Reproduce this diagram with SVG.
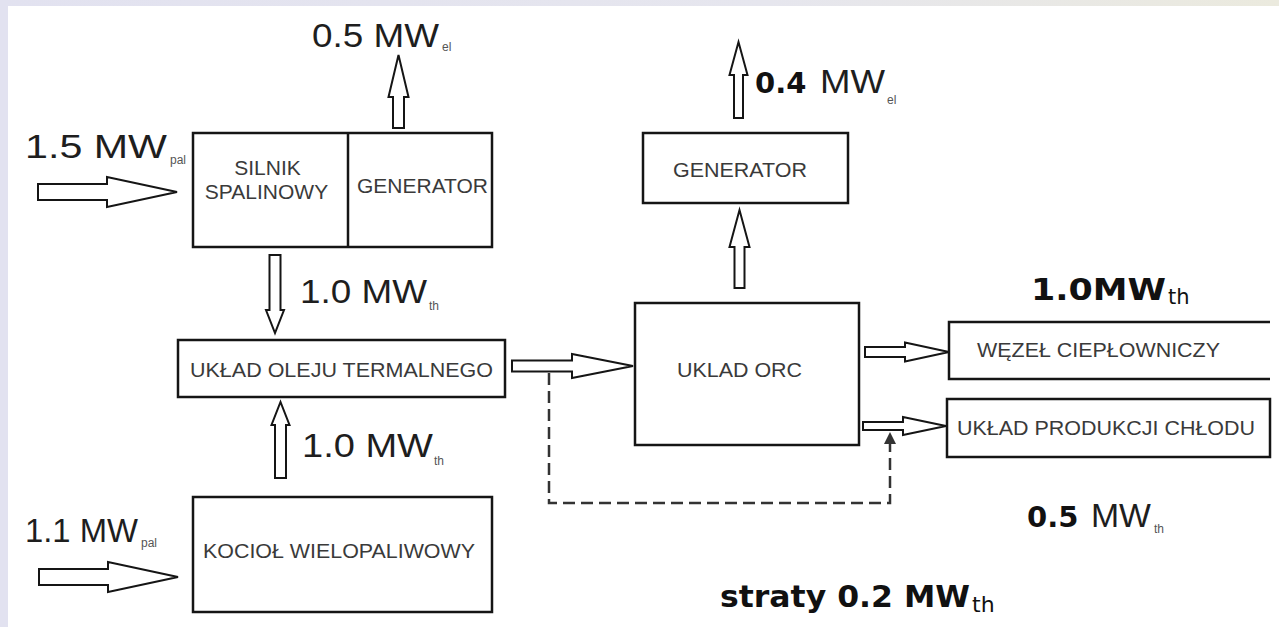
<svg xmlns="http://www.w3.org/2000/svg" width="1279" height="627" viewBox="0 0 1279 627">
<defs>
<linearGradient id="bandTop" x1="0" y1="0" x2="1" y2="0">
<stop offset="0" stop-color="#e2e2f0"/><stop offset="0.6" stop-color="#e6e6ee"/><stop offset="1" stop-color="#ebeade"/>
</linearGradient>
<style>
.box{fill:#fff;stroke:#151515;stroke-width:2.5}
.open{fill:none;stroke:#151515;stroke-width:2.5}
.blk{fill:#fff;stroke:#151515;stroke-width:2;stroke-linejoin:miter}
.lbl{font-family:"Liberation Sans",Arial,sans-serif;font-size:21px;fill:#3a3a3a}
.big{font-family:"Liberation Sans",Arial,sans-serif;font-size:34px;fill:#1e1e1e}
.sub{font-family:"Liberation Sans",Arial,sans-serif;font-size:12px;fill:#555}
.bold{font-family:"DejaVu Sans",Verdana,sans-serif;font-weight:bold;fill:#111}
.dash{fill:none;stroke:#333;stroke-width:2.5;stroke-dasharray:12 6}
</style>
</defs>
<rect width="1279" height="627" fill="#fff"/>
<rect x="0" y="0" width="1279" height="6" fill="url(#bandTop)"/>
<rect x="0" y="0" width="8" height="627" fill="#e2e2f0"/>

<g id="connectors">
<polygon class="blk" points="38,184 107,184 107,177 177,192 107,207 107,200 38,200"/>
<polygon class="blk" points="39,569 108,569 108,562 178,577 108,592 108,585 39,585"/>
<polygon class="blk" points="393,128 393,97 388.5,97 398.5,55 408.5,97 404,97 404,128"/>
<polygon class="blk" points="269.5,255 269.5,310 266,310 275,333 284,310 280.5,310 280.5,255"/>
<polygon class="blk" points="275,478 275,425 271.5,425 280.5,402 289.5,425 286,425 286,478"/>
<polygon class="blk" points="512,360.5 572,360.5 572,354 633,366 572,378 572,371.5 512,371.5"/>
<polygon class="blk" points="734.5,288 734.5,247 729.5,247 739.5,210 749.5,247 744.5,247 744.5,288"/>
<polygon class="blk" points="734,118 734,75 729.5,75 738.5,42 747.5,75 743,75 743,118"/>
<polygon class="blk" points="865,347 905,347 905,342.5 949,352 905,361.5 905,357 865,357"/>
<polygon class="blk" points="863,422 903,422 903,417 946,426 903,435 903,430 863,430"/>
<path class="dash" d="M549,373 V503 H890 V444"/>
<path d="M890,432 L896,444 L884,444 Z" fill="#333"/>
</g>

<g id="engine">
<rect class="box" x="193" y="133" width="299" height="114"/>
<line x1="348" y1="133" x2="348" y2="247" stroke="#151515" stroke-width="2.5"/>
<text class="lbl" x="267.5" y="175" text-anchor="middle">SILNIK</text>
<text class="lbl" x="266.5" y="199" text-anchor="middle">SPALINOWY</text>
<text class="lbl" x="357" y="193" textLength="131" lengthAdjust="spacingAndGlyphs">GENERATOR</text>
</g>

<g id="oil">
<rect class="box" x="178" y="340" width="327" height="57"/>
<text class="lbl" x="190" y="377" textLength="303" lengthAdjust="spacingAndGlyphs">UKŁAD OLEJU TERMALNEGO</text>
</g>

<g id="boiler">
<rect class="box" x="193" y="497" width="299" height="115"/>
<text class="lbl" x="203" y="558" textLength="272" lengthAdjust="spacingAndGlyphs">KOCIOŁ WIELOPALIWOWY</text>
</g>

<g id="orc">
<rect class="box" x="635" y="303" width="224" height="142"/>
<text class="lbl" x="677" y="377" textLength="125" lengthAdjust="spacingAndGlyphs">UKLAD ORC</text>
</g>

<g id="generator">
<rect class="box" x="643" y="133" width="205" height="70"/>
<text class="lbl" x="673" y="177" textLength="134" lengthAdjust="spacingAndGlyphs">GENERATOR</text>
</g>

<g id="wezel">
<path class="open" d="M1270,322 H949 V379 H1270"/>
<text class="lbl" x="977" y="357" textLength="243" lengthAdjust="spacingAndGlyphs">WĘZEŁ CIEPŁOWNICZY</text>
</g>

<g id="chlod">
<rect class="box" x="947" y="399" width="323" height="58"/>
<text class="lbl" x="957" y="435" textLength="298" lengthAdjust="spacingAndGlyphs">UKŁAD PRODUKCJI CHŁODU</text>
</g>

<g id="labels">
<text class="big" x="312" y="47" textLength="127" lengthAdjust="spacingAndGlyphs">0.5 MW</text>
<text class="sub" x="442" y="51" font-size="11">el</text>
<text class="big" x="25" y="158" textLength="142" lengthAdjust="spacingAndGlyphs">1.5 MW</text>
<text class="sub" x="170" y="164" font-size="11">pal</text>
<text class="big" x="300" y="303" textLength="127" lengthAdjust="spacingAndGlyphs">1.0 MW</text>
<text class="sub" x="429" y="310">th</text>
<text class="big" x="302" y="457" textLength="131" lengthAdjust="spacingAndGlyphs">1.0 MW</text>
<text class="sub" x="434" y="465">th</text>
<text class="big" x="25" y="542" textLength="113" lengthAdjust="spacingAndGlyphs">1.1 MW</text>
<text class="sub" x="141" y="547">pal</text>
<text class="bold" x="755" y="93" font-size="29">0.4</text>
<text class="big" x="820" y="93" font-size="31" textLength="65" lengthAdjust="spacingAndGlyphs">MW</text>
<text class="sub" x="887" y="104" font-size="11">el</text>
<text class="bold" x="1031" y="300" font-size="30" textLength="135" lengthAdjust="spacingAndGlyphs">1.0MW</text>
<text x="1168" y="304" font-family="DejaVu Sans,sans-serif" font-size="21" fill="#111">th</text>
<text class="bold" x="1027" y="527" font-size="29">0.5</text>
<text class="big" x="1091" y="527" font-size="31" textLength="60" lengthAdjust="spacingAndGlyphs">MW</text>
<text class="sub" x="1154" y="533">th</text>
<text class="bold" x="720" y="607" font-size="31" textLength="250" lengthAdjust="spacingAndGlyphs">straty 0.2 MW</text>
<text x="972" y="612" font-family="DejaVu Sans,sans-serif" font-size="22" fill="#111">th</text>
</g>
</svg>
